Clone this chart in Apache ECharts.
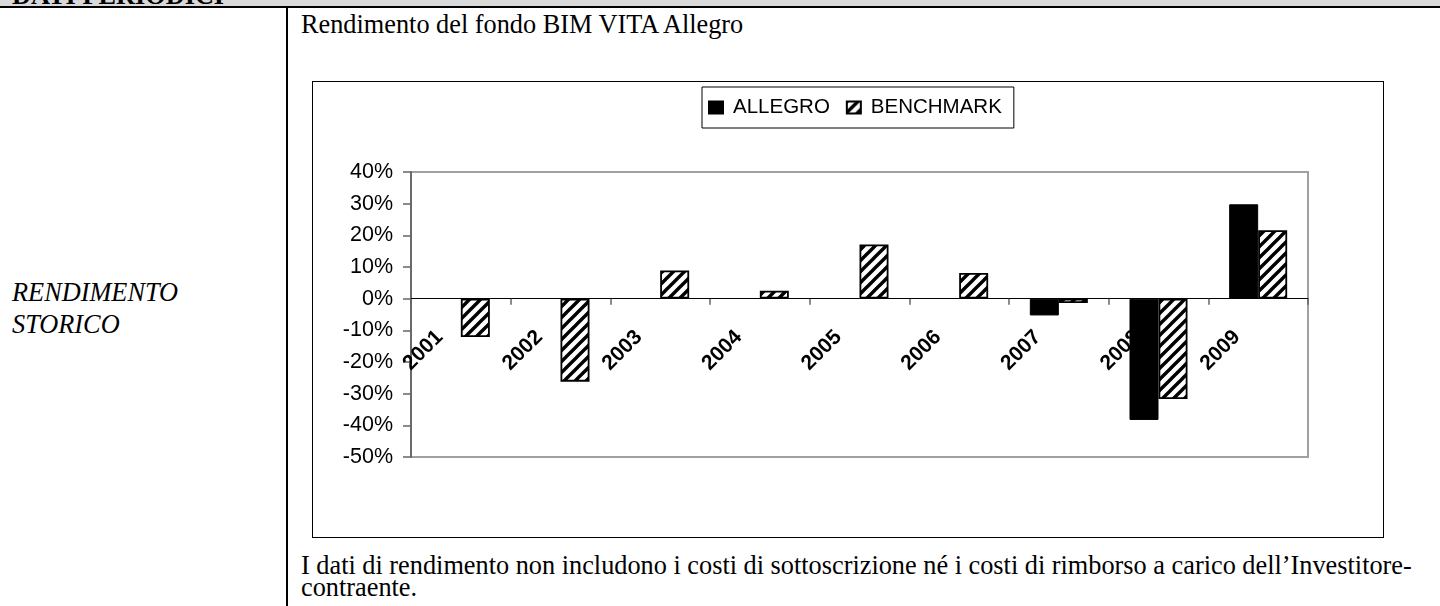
<!DOCTYPE html>
<html>
<head>
<meta charset="utf-8">
<script src="https://cdn.jsdelivr.net/npm/echarts@6/dist/echarts.min.js"></script>
<style>
  html, body { margin: 0; padding: 0; background: #fff; }
  body { width: 1440px; height: 606px; overflow: hidden; position: relative; font-family: "Liberation Serif", "Times New Roman", serif; color: #000; }
  .t { position: absolute; white-space: nowrap; font-size: 26.3px; line-height: 26.3px; }
  #band { position: absolute; left: 0; top: 0; width: 1440px; height: 6px; background: #d9d9d9; overflow: hidden; }
  #bandline { position: absolute; left: 0; top: 6px; width: 1440px; height: 2px; background: #000; }
  #vline { position: absolute; left: 286px; top: 8px; width: 2px; height: 598px; background: #000; }
  #box { position: absolute; left: 312px; top: 81px; width: 1072px; height: 457px; box-sizing: border-box; border: 1px solid #000; }
  #chart { position: absolute; left: 0; top: 0; width: 1070px; height: 455px; }
</style>
</head>
<body>
<div id="band"><div class="t" style="left:12px; top:-17px; font-weight:bold;">DATI PERIODICI</div></div>
<div id="bandline"></div>
<div id="vline"></div>
<div class="t" style="left:301px; top:12px;">Rendimento del fondo BIM VITA Allegro</div>
<div class="t" style="left:12px; top:280px; font-style:italic;">RENDIMENTO</div>
<div class="t" style="left:12px; top:312px; font-style:italic;">STORICO</div>
<div class="t" style="left:301px; top:553px;">I dati di rendimento non includono i costi di sottoscrizione né i costi di rimborso a carico dell’Investitore-</div>
<div class="t" style="left:301px; top:575px;">contraente.</div>
<div id="box"><div id="chart"></div></div>
<script>
const categories = ['2001', '2002', '2003', '2004', '2005', '2006', '2007', '2008', '2009'];
const allegroValues = [null, null, null, null, null, null, -5.3, -38.3, 29.8];
const benchmarkValues = [-12.1, -26.2, 8.9, 2.5, 17.1, 8.1, -1.4, -31.7, 21.6];
const seriesNames = ['ALLEGRO', 'BENCHMARK'];
const yMin = -50, yMax = 40, yStep = 10;

function hatch() {
  const s = 11;
  const c = document.createElement('canvas');
  c.width = s; c.height = s;
  const g = c.getContext('2d');
  g.fillStyle = '#fff';
  g.fillRect(0, 0, s, s);
  g.strokeStyle = '#000';
  g.lineWidth = 3.4;
  g.lineCap = 'square';
  g.beginPath();
  g.moveTo(0, s); g.lineTo(s, 0);
  g.moveTo(-s / 2, s / 2); g.lineTo(s / 2, -s / 2);
  g.moveTo(s / 2, s + s / 2); g.lineTo(s + s / 2, s / 2);
  g.stroke();
  return c;
}

const gridH = 285;
// place the category axis (line, ticks, labels) on the zero line
const zeroOffset = -gridH * (0 - yMin) / (yMax - yMin);

const chart = echarts.init(document.getElementById('chart'), null, { renderer: 'canvas' });
const sans = '"Liberation Sans", Arial, sans-serif';
chart.setOption({
  animation: false,
  backgroundColor: '#fff',
  legend: {
    left: 389, top: 5,
    padding: [10, 12, 10, 6],
    borderColor: '#000', borderWidth: 1,
    itemWidth: 14, itemHeight: 12, itemGap: 16,
    icon: 'rect',
    selectedMode: false,
    textStyle: { fontFamily: sans, fontSize: 20.5, color: '#000', padding: [0, 0, 0, 5] },
    data: seriesNames
  },
  grid: {
    left: 98, top: 90, width: 897, height: gridH,
    show: true, borderColor: '#a0a0a0', borderWidth: 2, backgroundColor: 'transparent'
  },
  xAxis: {
    type: 'category',
    data: categories,
    offset: zeroOffset,
    axisLine: { onZero: false, lineStyle: { color: '#000', width: 1 } },
    axisTick: { show: true, length: 6, lineStyle: { color: '#666', width: 1.5 } },
    axisLabel: {
      interval: 0, rotate: 45, margin: 14,
      fontFamily: sans, fontSize: 21, fontWeight: 'bold', color: '#000',
      padding: [0, 30, 0, 0]
    },
    splitLine: { show: false }
  },
  yAxis: {
    type: 'value',
    min: yMin, max: yMax, interval: yStep,
    axisLine: { show: true, lineStyle: { color: '#6a6a6a', width: 2 } },
    axisTick: { show: true, length: 8, lineStyle: { color: '#666', width: 1.5 } },
    axisLabel: { formatter: '{value}%', margin: 18, fontFamily: sans, fontSize: 21.5, color: '#000' },
    splitLine: { show: false }
  },
  series: [
    {
      name: seriesNames[0], type: 'bar', data: allegroValues,
      barWidth: 29, barGap: '0%',
      itemStyle: { color: '#000', borderColor: '#000', borderWidth: 1 }
    },
    {
      name: seriesNames[1], type: 'bar', data: benchmarkValues,
      barWidth: 29,
      itemStyle: { color: { image: hatch(), repeat: 'repeat' }, borderColor: '#000', borderWidth: 1.8 }
    }
  ]
});
</script>
</body>
</html>
